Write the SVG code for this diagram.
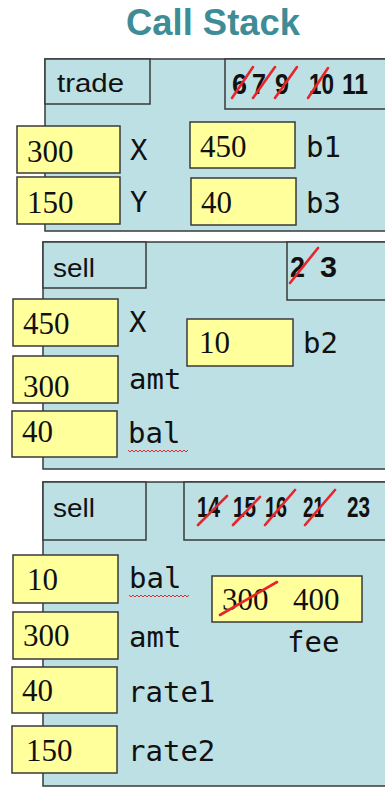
<svg xmlns="http://www.w3.org/2000/svg" width="385" height="787" viewBox="0 0 385 787">
<style>
.frame{fill:#bde0e4;stroke:#3a3a3a;stroke-width:1.5}
.tab{fill:#bde0e4;stroke:#3a3a3a;stroke-width:1.5}
.val{fill:#ffff9c;stroke:#3a3a3a;stroke-width:1.5}
.num{font-family:"Liberation Serif",serif;font-size:31px;fill:#111}
.lbl{font-family:"DejaVu Sans Mono","Liberation Mono",monospace;font-size:29px;fill:#111}
.fn{font-family:"Liberation Sans",Arial,sans-serif;font-size:25px;fill:#111}
.ln{font-family:"Liberation Sans",Arial,sans-serif;font-weight:bold;font-size:30px;fill:#111}
.strike{stroke:#e8252a;stroke-width:2.6;stroke-linecap:round}
.squig{fill:none;stroke:#d83030;stroke-width:1}
</style>
<rect width="385" height="787" fill="#ffffff"/>
<text x="126" y="35" font-family="'Liberation Sans',Arial,sans-serif" font-weight="bold" font-size="37" fill="#3e8c96" textLength="174" lengthAdjust="spacingAndGlyphs">Call Stack</text>

<g id="frame-trade">
<rect class="frame" x="45" y="59" width="345" height="172"/>
<rect class="tab" x="45" y="59" width="105" height="45"/>
<text class="fn" x="57" y="92" textLength="67" lengthAdjust="spacingAndGlyphs">trade</text>
<rect class="tab" x="225" y="59" width="165" height="50"/>
<text class="ln" x="232" y="94" textLength="15" lengthAdjust="spacingAndGlyphs">6</text>
<text class="ln" x="252" y="94" textLength="14" lengthAdjust="spacingAndGlyphs">7</text>
<text class="ln" x="275" y="94" textLength="14" lengthAdjust="spacingAndGlyphs">9</text>
<text class="ln" x="309" y="94" textLength="25" lengthAdjust="spacingAndGlyphs">10</text>
<text class="ln" x="342" y="94" textLength="26" lengthAdjust="spacingAndGlyphs">11</text>
<line class="strike" x1="232" y1="98" x2="253" y2="67"/>
<line class="strike" x1="253" y1="98" x2="275" y2="67"/>
<line class="strike" x1="275" y1="98" x2="297" y2="67"/>
<line class="strike" x1="308" y1="98" x2="328" y2="68"/>
</g>
<g id="trade-x">
<rect class="val" x="17" y="126" width="103" height="47"/>
<text class="num" x="27" y="162">300</text>
<text class="lbl" x="130" y="160">X</text>
</g>
<g id="trade-y">
<rect class="val" x="17" y="177" width="103" height="47"/>
<text class="num" x="27" y="213">150</text>
<text class="lbl" x="130" y="212">Y</text>
</g>
<g id="trade-b1">
<rect class="val" x="190" y="122" width="105" height="46"/>
<text class="num" x="200" y="157">450</text>
<text class="lbl" x="306" y="157">b1</text>
</g>
<g id="trade-b3">
<rect class="val" x="191" y="178" width="105" height="47"/>
<text class="num" x="201" y="213">40</text>
<text class="lbl" x="306" y="213">b3</text>
</g>

<g id="frame-sell1">
<rect class="frame" x="43" y="242" width="347" height="227"/>
<rect class="tab" x="43" y="242" width="103" height="46"/>
<text class="fn" x="53" y="277" textLength="42" lengthAdjust="spacingAndGlyphs">sell</text>
<rect class="tab" x="287" y="242" width="103" height="58"/>
<text class="ln" x="290" y="277" textLength="15" lengthAdjust="spacingAndGlyphs">2</text>
<text class="ln" x="320" y="277" textLength="17" lengthAdjust="spacingAndGlyphs">3</text>
<line class="strike" x1="290" y1="283" x2="318" y2="248"/>
</g>
<g id="sell1-x">
<rect class="val" x="13" y="299" width="105" height="47"/>
<text class="num" x="23" y="334">450</text>
<text class="lbl" x="129" y="332">X</text>
</g>
<g id="sell1-amt">
<rect class="val" x="13" y="356" width="105" height="47"/>
<text class="num" x="23" y="397">300</text>
<text class="lbl" x="129" y="389">amt</text>
</g>
<g id="sell1-bal">
<rect class="val" x="12" y="411" width="105" height="46"/>
<text class="num" x="22" y="442">40</text>
<text class="lbl" x="128" y="443">bal</text>
<polyline class="squig" points="128,450 130,452 132,450 134,452 136,450 138,452 140,450 142,452 144,450 146,452 148,450 150,452 152,450 154,452 156,450 158,452 160,450 162,452 164,450 166,452 168,450 170,452 172,450 174,452 176,450 178,452 180,450 182,452 184,450 186,452 188,450"/>
</g>
<g id="sell1-b2">
<rect class="val" x="187" y="319" width="106" height="47"/>
<text class="num" x="199" y="353">10</text>
<text class="lbl" x="303" y="353">b2</text>
</g>

<g id="frame-sell2">
<rect class="frame" x="43" y="482" width="347" height="304"/>
<rect class="tab" x="43" y="482" width="103" height="58"/>
<text class="fn" x="53" y="517" textLength="42" lengthAdjust="spacingAndGlyphs">sell</text>
<rect class="tab" x="184" y="482" width="206" height="58"/>
<text class="ln" x="197" y="517" textLength="23" lengthAdjust="spacingAndGlyphs">14</text>
<text class="ln" x="233" y="517" textLength="23" lengthAdjust="spacingAndGlyphs">15</text>
<text class="ln" x="265" y="517" textLength="22" lengthAdjust="spacingAndGlyphs">16</text>
<text class="ln" x="303" y="517" textLength="21" lengthAdjust="spacingAndGlyphs">21</text>
<text class="ln" x="347" y="517" textLength="23" lengthAdjust="spacingAndGlyphs">23</text>
<line class="strike" x1="198" y1="525" x2="227" y2="496"/>
<line class="strike" x1="233" y1="525" x2="260" y2="497"/>
<line class="strike" x1="265" y1="525" x2="295" y2="490"/>
<line class="strike" x1="305" y1="525" x2="335" y2="490"/>
</g>
<g id="sell2-bal">
<rect class="val" x="13" y="555" width="105" height="48"/>
<text class="num" x="27" y="590">10</text>
<text class="lbl" x="129" y="588">bal</text>
<polyline class="squig" points="129,595 131,597 133,595 135,597 137,595 139,597 141,595 143,597 145,595 147,597 149,595 151,597 153,595 155,597 157,595 159,597 161,595 163,597 165,595 167,597 169,595 171,597 173,595 175,597 177,595 179,597 181,595 183,597 185,595 187,597 189,595"/>
</g>
<g id="sell2-amt">
<rect class="val" x="13" y="612" width="105" height="47"/>
<text class="num" x="23" y="646">300</text>
<text class="lbl" x="129" y="647">amt</text>
</g>
<g id="sell2-rate1">
<rect class="val" x="12" y="667" width="105" height="46"/>
<text class="num" x="22" y="701">40</text>
<text class="lbl" x="128" y="702">rate1</text>
</g>
<g id="sell2-rate2">
<rect class="val" x="12" y="726" width="105" height="47"/>
<text class="num" x="26" y="761">150</text>
<text class="lbl" x="128" y="761">rate2</text>
</g>
<g id="sell2-fee">
<rect class="val" x="212" y="576" width="150" height="46"/>
<text class="num" x="222" y="610">300</text>
<text class="num" x="293" y="610">400</text>
<line class="strike" x1="220" y1="615" x2="277" y2="582"/>
<text class="lbl" x="287" y="652">fee</text>
</g>
<g id="connectors"/>
</svg>
